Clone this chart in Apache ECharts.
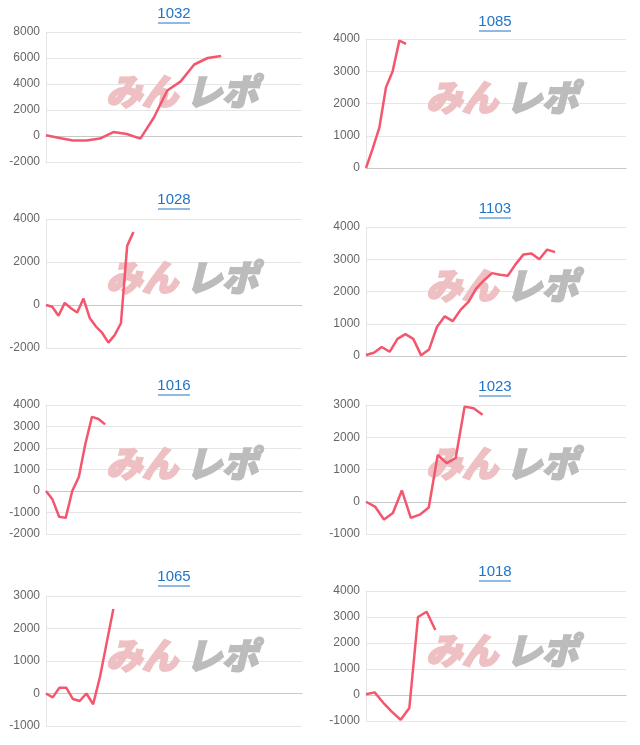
<!DOCTYPE html>
<html><head><meta charset="utf-8">
<script src="https://cdn.jsdelivr.net/npm/echarts@6/dist/echarts.min.js"></script>
<style>html,body{margin:0;padding:0;background:#fff}#c{width:640px;height:745px}</style>
</head><body><div id="c"></div>
<script>
const names = ['1032','1085','1028','1103','1016','1023','1065','1018'];
const catCounts = [20,40,42,34,40,30,39,31];
const v1032 = [50,-150,-350,-350,-200,300,150,-200,1400,3500,4200,5500,6000,6150];
const v1085 = [0,600,1250,2500,3000,3950,3850];
const v1028 = [0,-80,-500,100,-150,-350,300,-600,-1000,-1300,-1750,-1400,-850,2750,3400];
const v1103 = [30,100,280,130,530,680,530,20,200,900,1230,1080,1430,1680,2100,2350,2570,2520,2490,2850,3150,3180,3000,3300,3220];
const v1016 = [0,-400,-1200,-1250,0,650,2200,3450,3350,3100];
const v1023 = [0,-150,-550,-350,350,-500,-400,-180,1450,1200,1350,2950,2900,2700];
const v1065 = [0,-120,180,180,-170,-230,0,-330,500,1550,2600];
const v1018 = [30,100,-300,-650,-950,-500,3000,3200,2500];
const series = [v1032,v1085,v1028,v1103,v1016,v1023,v1065,v1018];
const yMin = [-2000,0,-2000,0,-2000,-1000,-1000,-1000];
const yMax = [8000,4000,4000,4000,4000,3000,3000,4000];
const yInt = [2000,1000,2000,1000,1000,1000,1000,1000];

const layout = [ // left, width, top, bottom(y), titleY
  [46,256,32,162,14],[366,260,39,168,22],
  [46,256,219,348,200],[366,260,227,356,209],
  [46,256,405,534,386],[366,260,405,534,387],
  [46,256,596,726,577],[366,260,591,721,572]
];
const grids=[],xAxes=[],yAxes=[],ser=[],graphics=[];
layout.forEach((L,i)=>{
  grids.push({left:L[0],width:L[1],top:L[2],height:L[3]-L[2]});
  xAxes.push({type:'category',gridIndex:i,boundaryGap:false,data:Array.from({length:catCounts[i]},(_,k)=>k),
    axisLabel:{show:false},axisTick:{show:false},axisLine:{onZero:true,lineStyle:{color:'#c8c8c8'}},splitLine:{show:false}});
  yAxes.push({type:'value',gridIndex:i,min:yMin[i],max:yMax[i],interval:yInt[i],
    axisLine:{show:true,lineStyle:{color:'#e6e6e6'}},axisTick:{show:false},
    axisLabel:{color:'#666',fontSize:12,fontFamily:'Arial, Liberation Sans',margin:6,formatter:v=>String(v)},
    splitLine:{lineStyle:{color:'#e6e6e6'}}});
  ser.push({type:'line',xAxisIndex:i,yAxisIndex:i,data:series[i],showSymbol:false,
    lineStyle:{color:'#f4566d',width:2.5},itemStyle:{color:'#f4566d'},z:3});
  const cx=L[0]+L[1]/2-(i%2===0?0:1);
  graphics.push({type:'text',x:cx,y:L[4],z:10,style:{text:names[i],fill:'#1f74c9',font:'15px Arial, "Liberation Sans"',textAlign:'center',textVerticalAlign:'middle'}});
  graphics.push({type:'line',shape:{x1:cx-16,y1:L[4]+9,x2:cx+16,y2:L[4]+9},style:{stroke:'#1f74c9',lineWidth:1},z:10});
  const wy=(L[2]+L[3])/2-6, wx=L[0]+60;
  graphics.push({type:'text',x:wx,y:wy,z:1,style:{text:'みん',fill:'#eec0c3',font:'italic 900 36px "Noto Sans CJK JP"',textVerticalAlign:'middle',stroke:'#eec0c3',lineWidth:2}});
  graphics.push({type:'text',x:wx+80,y:wy,z:1,style:{text:'レポ',fill:'#bcbcbc',font:'italic 900 36px "Noto Sans CJK JP"',textVerticalAlign:'middle',stroke:'#bcbcbc',lineWidth:2}});
});
const chart=echarts.init(document.getElementById('c'));
chart.setOption({animation:false,grid:grids,xAxis:xAxes,yAxis:yAxes,series:ser,graphic:graphics});
</script></body></html>
